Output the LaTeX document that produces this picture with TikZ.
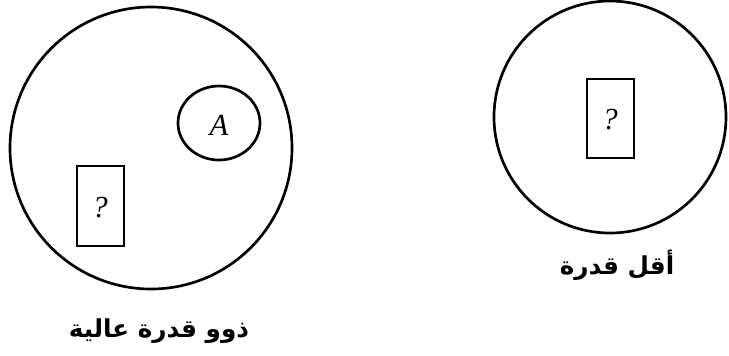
\documentclass[tikz,border=0pt]{standalone}
\usepackage{fontspec}
\setmainfont{Liberation Serif}
\newfontfamily\arabicfont[Script=Arabic]{DejaVu Sans}
\TeXXeTstate=1
\tikzset{every picture/.style={line width=2pt}}
\tikzset{
  mark label/.style={inner sep=0.75pt,font=\itshape\fontsize{23}{25}\selectfont},
  group label/.style={inner sep=0.75pt,font=\arabicfont\bfseries\fontsize{18.5}{22}\selectfont}
}

\begin{document}
\begin{tikzpicture}[x=0.75pt,y=0.75pt,yscale=-1,xscale=1]
\useasboundingbox (0,0) rectangle (729,355);

%Shape: Circle [id:high]
\draw   (151,148) circle (141) ;
%Shape: Ellipse [id:inner]
\draw   (219,123) ellipse (41 and 37) ;
%Shape: Rectangle [id:highbox]
\draw   (77,166) rectangle (124,246) ;
%Shape: Circle [id:low]
\draw   (610,117) circle (116) ;
%Shape: Rectangle [id:lowbox]
\draw   (587,79) rectangle (634,158) ;

% Text Node
\draw (219,125) node [mark label] (markA) {A};
% Text Node
\draw (100,208) node [mark label] (markhigh) {?};
% Text Node
\draw (610,120) node [mark label] (marklow) {?};
% Text Node
\draw (617,265) node [group label] (labellow) {\beginR أقل قدرة\endR};
% Text Node
\draw (159,331) node [group label] (labelhigh) {\beginR ذوو قدرة عالية\endR};

\end{tikzpicture}
\end{document}
